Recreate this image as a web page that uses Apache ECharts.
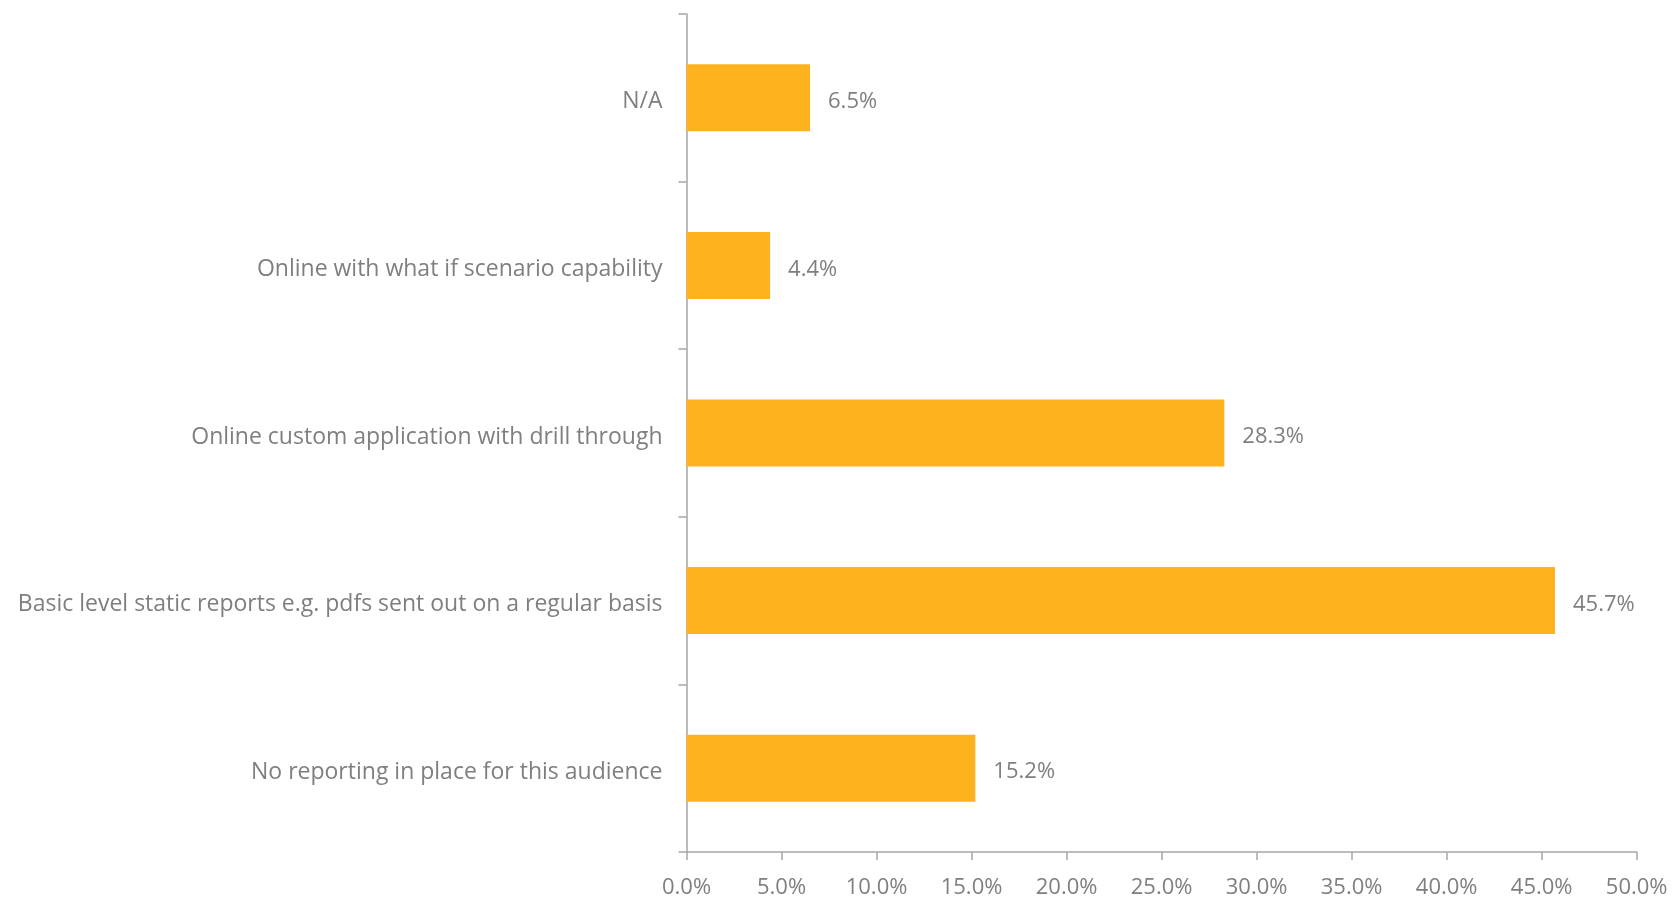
<!DOCTYPE html>
<html>
<head>
<meta charset="utf-8">
<script src="https://cdn.jsdelivr.net/npm/echarts@6/dist/echarts.min.js"></script>
<style>
  html, body { margin: 0; padding: 0; background: #ffffff; }
  #chart { width: 1674px; height: 899px; }
</style>
</head>
<body>
<div id="chart"></div>
<script>
// Reporting types, listed bottom to top as they stack on the category axis
const categories = [
  'No reporting in place for this audience',
  'Basic level static reports e.g. pdfs sent out on a regular basis',
  'Online custom application with drill through',
  'Online with what if scenario capability',
  'N/A'
];
// Share of respondents, percent
const shares = [15.2, 45.7, 28.3, 4.4, 6.5];
// Value axis range and step, percent
const axisMin = 0;
const axisMax = 50;
const axisStep = 5;

const textColor = '#7f7f7f';
const lineColor = '#a6a6a6';
const barColor = '#fdb21e';
const fontFamily = '"Open Sans", Lato, sans-serif';

const chart = echarts.init(document.getElementById('chart'));
chart.setOption({
  animation: false,
  backgroundColor: '#ffffff',
  grid: { left: 686.5, right: 37.3, top: 14, bottom: 46.7, containLabel: false },
  xAxis: {
    type: 'value',
    min: axisMin,
    max: axisMax,
    interval: axisStep,
    axisLine: { show: true, lineStyle: { color: lineColor, width: 1.5 } },
    axisTick: { show: true, length: 8, lineStyle: { color: lineColor, width: 1.5 } },
    splitLine: { show: false },
    axisLabel: {
      color: textColor,
      fontFamily: fontFamily,
      fontSize: 22,
      margin: 25,
      formatter: v => v.toFixed(1) + '%'
    }
  },
  yAxis: {
    type: 'category',
    data: categories,
    axisLine: { show: true, lineStyle: { color: lineColor, width: 1.5 } },
    axisTick: { show: true, length: 8, alignWithLabel: false, lineStyle: { color: lineColor, width: 1.5 } },
    axisLabel: {
      color: textColor,
      fontFamily: fontFamily,
      fontSize: 23,
      margin: 24,
      // a short line box hung from the band centre sits the text a little low
      verticalAlign: 'top',
      lineHeight: 8
    }
  },
  series: [{
    type: 'bar',
    data: shares,
    barCategoryGap: '60%',
    itemStyle: { color: barColor },
    label: {
      show: true,
      position: 'right',
      distance: 18,
      offset: [0, 4],
      color: textColor,
      fontFamily: fontFamily,
      fontSize: 22,
      formatter: p => p.value.toFixed(1) + '%'
    }
  }]
});
</script>
</body>
</html>
